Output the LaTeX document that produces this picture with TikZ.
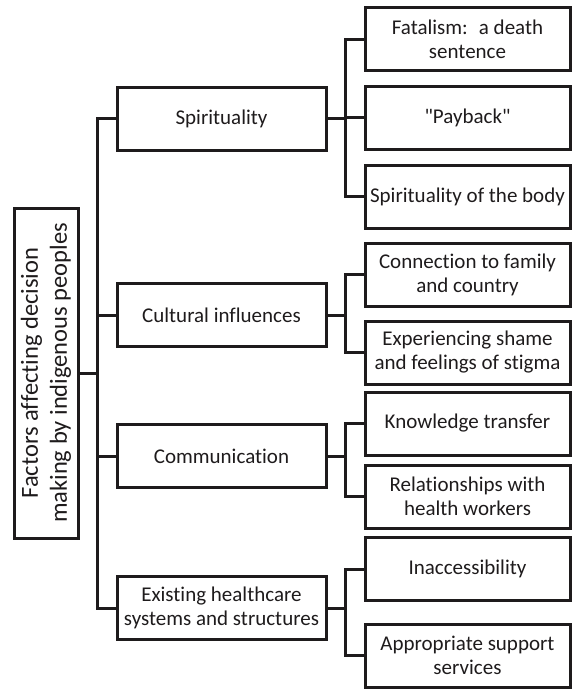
\documentclass[tikz,border=0pt]{standalone}
\usepackage{fontspec}
\newfontfamily\boxfont{Carlito}[Ligatures=NoCommon]
\definecolor{ink}{RGB}{30,27,28}
\begin{document}
\begin{tikzpicture}[x=1pt,y=-1pt,
  box/.style={draw=ink, line width=3pt, rectangle, inner sep=0pt, align=center, text=ink,
              font=\boxfont\fontsize{21}{24}\selectfont},
  lone/.style={box, minimum width=209pt, minimum height=63pt},
  ltwo/.style={box, minimum width=205pt, minimum height=63pt},
  link/.style={draw=ink, line width=3pt}]
\useasboundingbox (0,0) rectangle (572,689);

% root
\node[box, minimum width=64pt, minimum height=330pt] (root) at (46,373) {};
\node[rotate=90, align=center, text=ink, inner sep=0pt,
      font=\boxfont\fontsize{24.5}{29}\selectfont] (roottext) at (root.center)
  {Factors affecting decision\\making by indigenous peoples};

% level 1
\node[lone] (spir)  at (221.5,118.5) {Spirituality};
\node[lone] (cult)  at (221.5,315)   {Cultural influences};
\node[lone] (comm)  at (221.5,456)   {Communication};
\node[lone] (exist) at (221.5,608)   {Existing healthcare\\systems and structures};

% level 2
\node[ltwo] (fatal) at (467.5,39)    {Fatalism:~ a death\\sentence};
\node[ltwo] (pay)   at (467.5,117.5) {"Payback"};
\node[ltwo] (body)  at (467.5,196.5) {Spirituality of the body};
\node[ltwo] (conn)  at (467.5,274.5) {Connection to family\\and country};
\node[ltwo] (exper) at (467.5,352.5) {Experiencing shame\\and feelings of stigma};
\node[ltwo] (know)  at (467.5,423.5) {Knowledge transfer};
\node[ltwo] (rel)   at (467.5,496.5) {Relationships with\\health workers};
\node[ltwo] (inacc) at (467.5,569)   {Inaccessibility};
\node[ltwo] (appr)  at (467.5,655.5) {Appropriate support\\services};

% trunks
\coordinate (t) at (97,373);
\coordinate (s) at (345,0);

\draw[link] (root.east) -- (root.east -| t);
\draw[link] (spir.west) -- (spir.west -| t) -- (exist.west -| t) -- (exist.west);
\draw[link] (cult.west -| t) -- (cult.west);
\draw[link] (comm.west -| t) -- (comm.west);

\draw[link] (spir.east) -- (spir.east -| s);
\draw[link] (fatal.west) -- (fatal.west -| s) -- (body.west -| s) -- (body.west);
\draw[link] (pay.west -| s) -- (pay.west);

\draw[link] (cult.east) -- (cult.east -| s);
\draw[link] (conn.west) -- (conn.west -| s) -- (exper.west -| s) -- (exper.west);

\draw[link] (comm.east) -- (comm.east -| s);
\draw[link] (know.west) -- (know.west -| s) -- (rel.west -| s) -- (rel.west);

\draw[link] (exist.east) -- (exist.east -| s);
\draw[link] (inacc.west) -- (inacc.west -| s) -- (appr.west -| s) -- (appr.west);
\end{tikzpicture}
\end{document}
